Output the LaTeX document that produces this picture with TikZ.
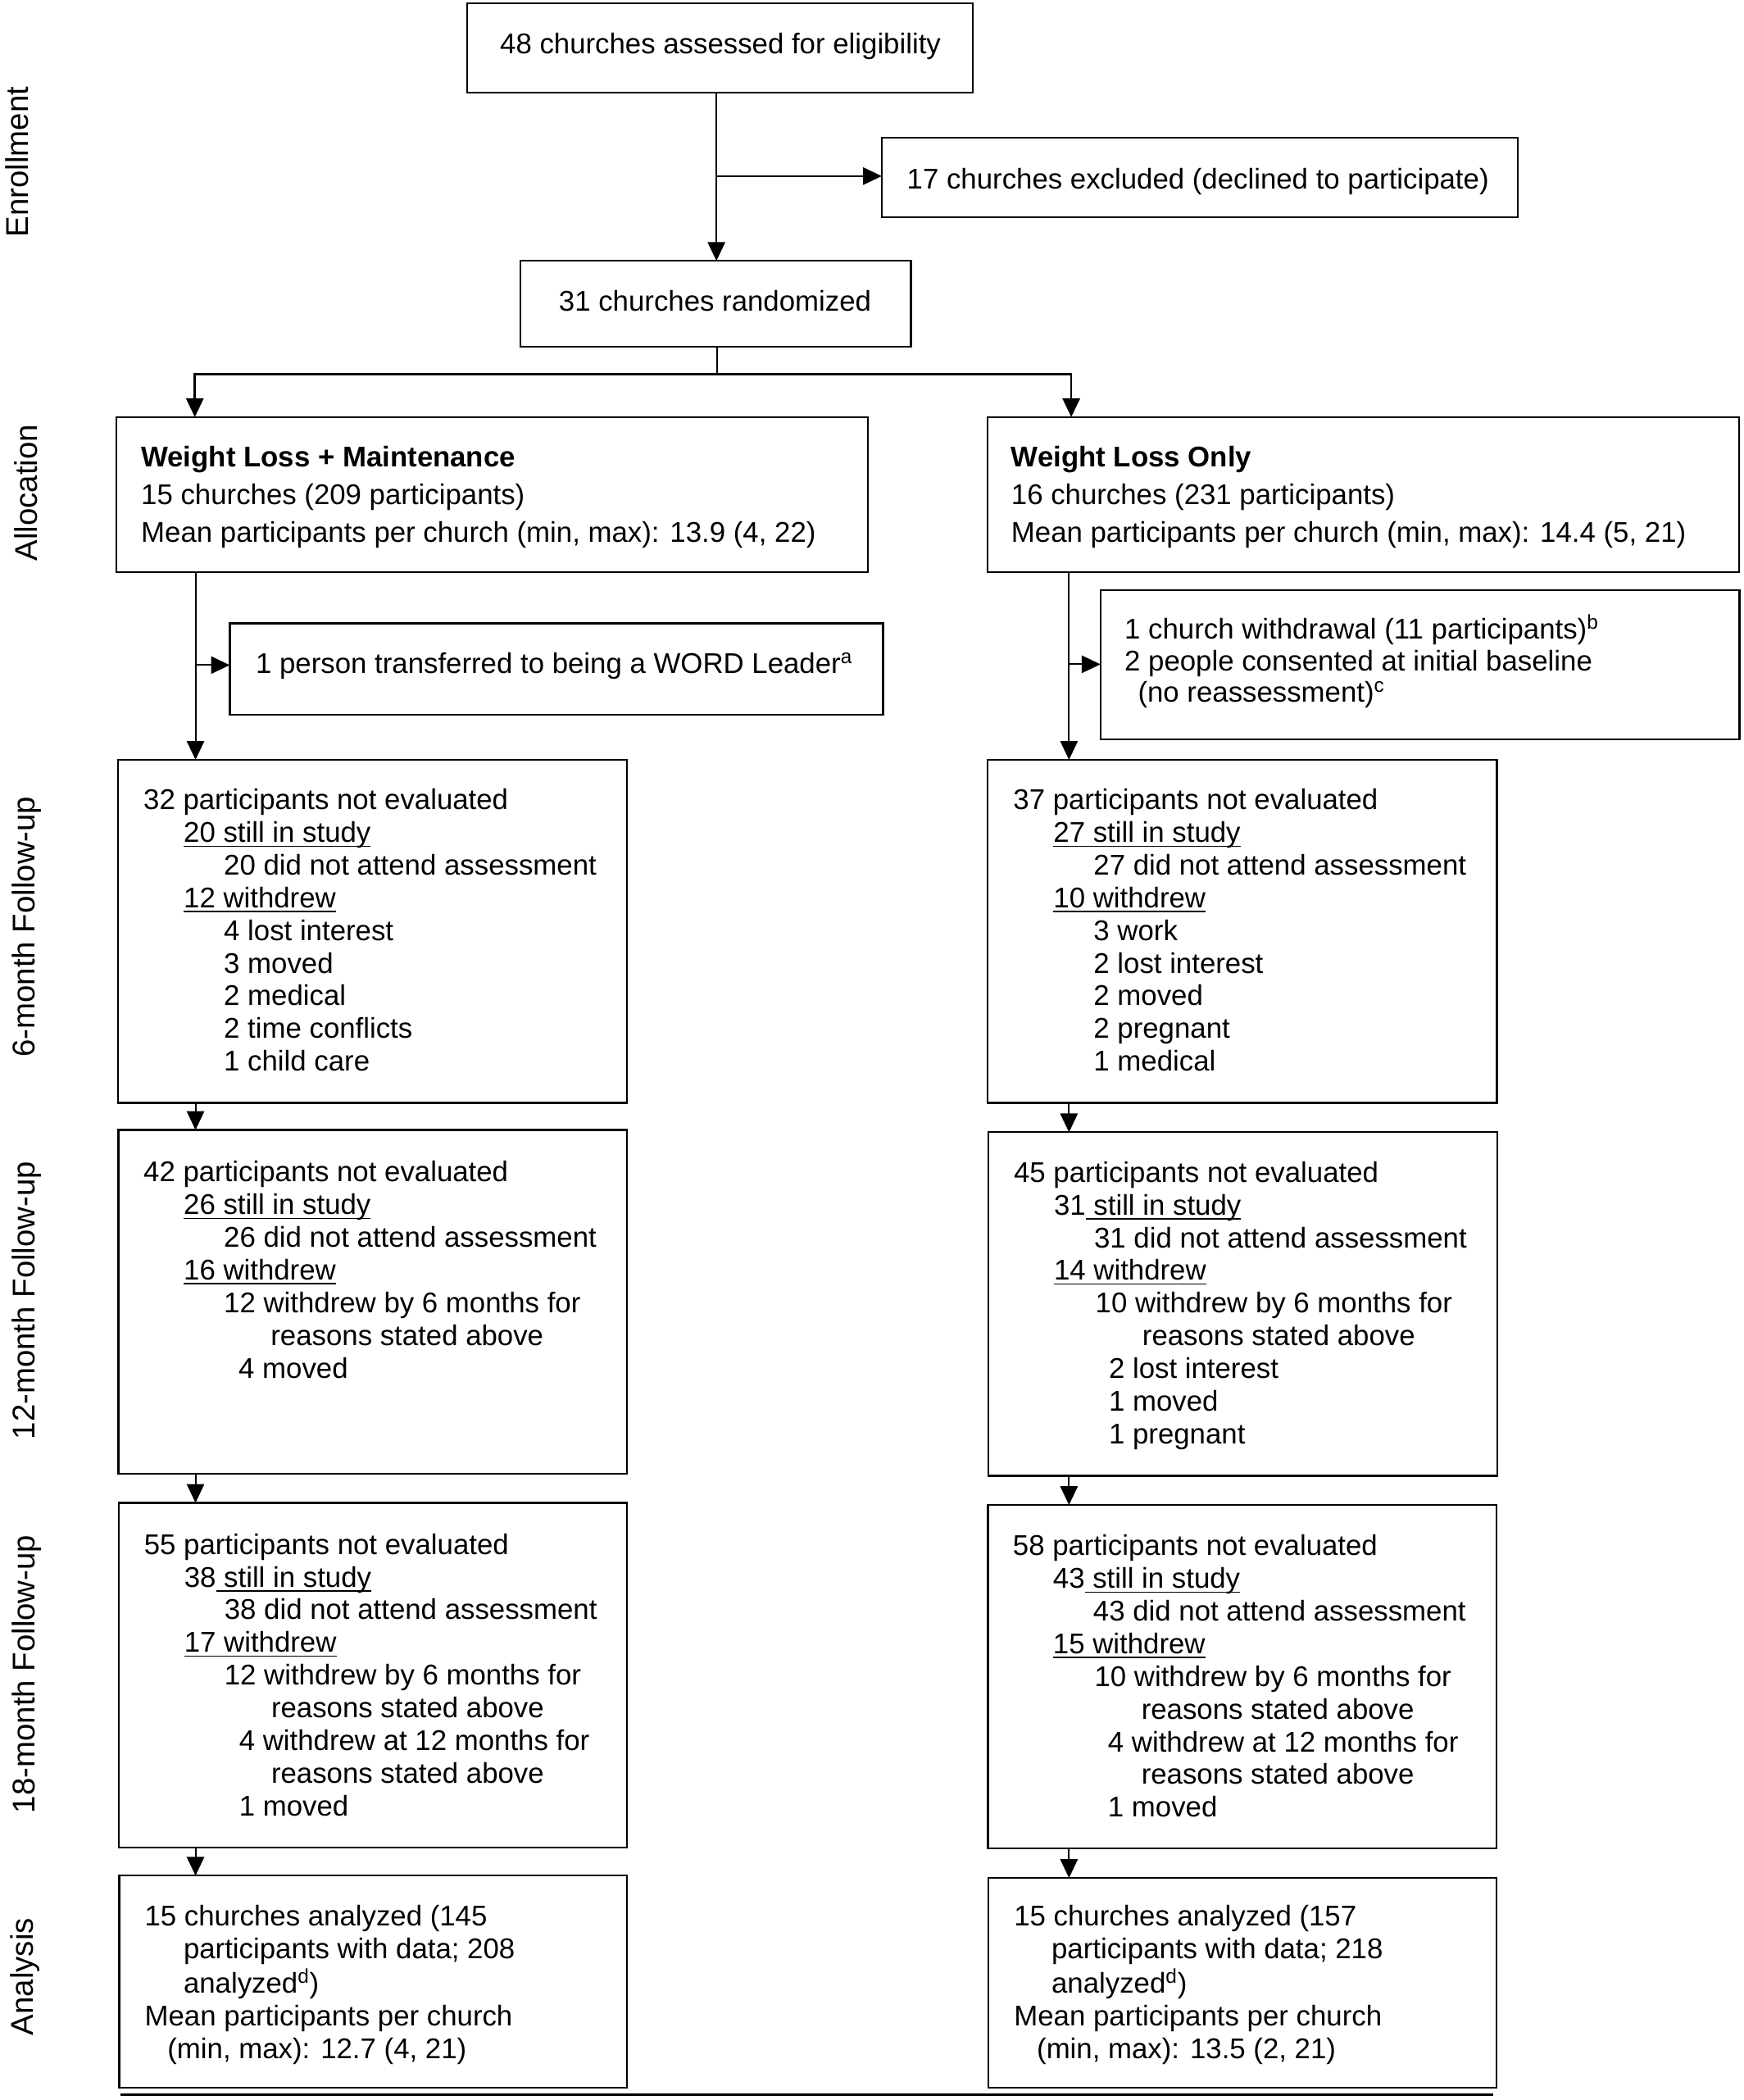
\documentclass[tikz,border=0pt]{standalone}
\usepackage{fontspec}
\setmainfont{Liberation Sans}
\usetikzlibrary{arrows.meta}
\newcommand\myul[1]{\setbox0=\hbox{#1}\rlap{\rule[-3.4pt]{\wd0}{1pt}}\box0}
\newcommand\ind[1]{\hspace*{#1pt}}
\newcommand\mkbox[5]{\node[boxnode, minimum width={(#4-#2)*1pt}, minimum height={(#5-#3)*1pt}] (#1) at (#2,#3) {};}
\tikzset{
  boxnode/.style={draw, line width=1.4pt, inner sep=0pt, outer sep=0pt, anchor=north west, fill=white},
  txt/.style={inner sep=0pt, font=\fontsize{21.3}{24.4}\selectfont, anchor=base west},
  ctxt/.style={txt, anchor=base},
  side/.style={inner sep=0pt, font=\fontsize{23.5}{28}\selectfont, rotate=90, anchor=base},
  conn/.style={line width=1.2pt},
  arr/.style={conn, -{Triangle[length=14pt,width=13pt]}}
}
\begin{document}
\begin{tikzpicture}[x=1pt,y=-1pt]
\path[fill=white] (0,0) rectangle (1302,1568);
\useasboundingbox (0,0) rectangle (1302,1568);

% side labels
\node[side] (lEnr) at (21,121) {Enrollment};
\node[side] (lAll) at (28,368) {Allocation};
\node[side] (l6) at (26,692) {6-month Follow-up};
\node[side] (l12) at (26,971) {12-month Follow-up};
\node[side] (l18) at (26,1250) {18-month Follow-up};
\node[side] (lAn) at (25,1476) {Analysis};

% boxes
\mkbox{b1}{349}{2.5}{726.5}{69}
\mkbox{b2}{658.5}{103}{1133.5}{162}
\mkbox{b3}{388.6}{194.8}{680.2}{259}
\mkbox{b4}{86.7}{311.4}{648.1}{427}
\mkbox{b5}{737.3}{311.4}{1298.7}{427}
\mkbox{nL}{171.6}{465.4}{659.4}{533.7}
\mkbox{nR}{821.8}{440.5}{1299}{552}
\mkbox{b6L}{88}{567.3}{468.1}{823.4}
\mkbox{b6R}{737.5}{567.3}{1117.8}{823.4}
\mkbox{b12L}{88.5}{843.7}{468.2}{1100.5}
\mkbox{b12R}{738.3}{845.4}{1118.3}{1101.9}
\mkbox{b18L}{88.9}{1122.1}{468.4}{1379.3}
\mkbox{b18R}{737.7}{1123.7}{1117.7}{1380.3}
\mkbox{bAL}{89}{1400.5}{468.4}{1558.8}
\mkbox{bAR}{738}{1402.2}{1117.7}{1558.8}

% texts
\node[ctxt] (t1) at (538,40) {48 churches assessed for eligibility};
\node[ctxt] (t2) at (894.6,141) {17 churches excluded (declined to participate)};
\node[ctxt] (t3) at (534,232.5) {31 churches randomized};

\node[txt, font=\fontsize{21.3}{28}\selectfont] (t4) at (105.2,348.6) {\begin{tabular}[t]{@{}l@{}}
\textbf{Weight Loss + Maintenance}\\
15 churches (209 participants)\\
Mean participants per church (min, max): 13.9 (4, 22)
\end{tabular}};
\node[txt, font=\fontsize{21.3}{28}\selectfont] (t5) at (755,348.6) {\begin{tabular}[t]{@{}l@{}}
\textbf{Weight Loss Only}\\
16 churches (231 participants)\\
Mean participants per church (min, max): 14.4 (5, 21)
\end{tabular}};

\node[txt] (tnL) at (190.8,502.7) {1 person transferred to being a WORD Leader\textsuperscript{a}};
\node[txt, font=\fontsize{21.3}{23.5}\selectfont] (tnR) at (839.6,477.2) {\begin{tabular}[t]{@{}l@{}}
1 church withdrawal (11 participants)\textsuperscript{b}\\
2 people consented at initial baseline\\
\ind{10}(no reassessment)\textsuperscript{c}
\end{tabular}};

\node[txt] (t6L) at (107,604.5) {\begin{tabular}[t]{@{}l@{}}
32 participants not evaluated\\
\ind{30}\myul{20 still in study}\\
\ind{60}20 did not attend assessment\\
\ind{30}\myul{12 withdrew}\\
\ind{60}4 lost interest\\
\ind{60}3 moved\\
\ind{60}2 medical\\
\ind{60}2 time conflicts\\
\ind{60}1 child care
\end{tabular}};
\node[txt] (t6R) at (756.5,604.5) {\begin{tabular}[t]{@{}l@{}}
37 participants not evaluated\\
\ind{30}\myul{27 still in study}\\
\ind{60}27 did not attend assessment\\
\ind{30}\myul{10 withdrew}\\
\ind{60}3 work\\
\ind{60}2 lost interest\\
\ind{60}2 moved\\
\ind{60}2 pregnant\\
\ind{60}1 medical
\end{tabular}};

\node[txt] (t12L) at (107,882.5) {\begin{tabular}[t]{@{}l@{}}
42 participants not evaluated\\
\ind{30}\myul{26 still in study}\\
\ind{60}26 did not attend assessment\\
\ind{30}\myul{16 withdrew}\\
\ind{60}12 withdrew by 6 months for\\
\ind{95}reasons stated above\\
\ind{71}4 moved
\end{tabular}};
\node[txt] (t12R) at (756.9,882.7) {\begin{tabular}[t]{@{}l@{}}
45 participants not evaluated\\
\ind{30}31\myul{\ still in study}\\
\ind{60}31 did not attend assessment\\
\ind{30}\myul{14 withdrew}\\
\ind{61}10 withdrew by 6 months for\\
\ind{96}reasons stated above\\
\ind{71}2 lost interest\\
\ind{71}1 moved\\
\ind{71}1 pregnant
\end{tabular}};

\node[txt] (t18L) at (107.4,1160.5) {\begin{tabular}[t]{@{}l@{}}
55 participants not evaluated\\
\ind{30}38\myul{\ still in study}\\
\ind{60}38 did not attend assessment\\
\ind{30}\myul{17 withdrew}\\
\ind{60}12 withdrew by 6 months for\\
\ind{95}reasons stated above\\
\ind{71}4 withdrew at 12 months for\\
\ind{95}reasons stated above\\
\ind{71}1 moved
\end{tabular}};
\node[txt] (t18R) at (756.2,1161.5) {\begin{tabular}[t]{@{}l@{}}
58 participants not evaluated\\
\ind{30}43\myul{\ still in study}\\
\ind{60}43 did not attend assessment\\
\ind{30}\myul{15 withdrew}\\
\ind{61}10 withdrew by 6 months for\\
\ind{96}reasons stated above\\
\ind{71}4 withdrew at 12 months for\\
\ind{96}reasons stated above\\
\ind{71}1 moved
\end{tabular}};

\node[txt] (tAL) at (107.9,1438) {\begin{tabular}[t]{@{}l@{}}
15 churches analyzed (145\\
\ind{29}participants with data; 208\\
\ind{29}analyzed\textsuperscript{d})\\
Mean participants per church\\
\ind{17}(min, max): 12.7 (4, 21)
\end{tabular}};
\node[txt] (tAR) at (757.1,1438) {\begin{tabular}[t]{@{}l@{}}
15 churches analyzed (157\\
\ind{28}participants with data; 218\\
\ind{28}analyzed\textsuperscript{d})\\
Mean participants per church\\
\ind{17}(min, max): 13.5 (2, 21)
\end{tabular}};

% connector coordinates
\coordinate (cT) at (535,0);
\coordinate (j1) at (535,131.5);
\coordinate (sp) at (535.7,279.5);
\coordinate (spL) at (145.5,279.5);
\coordinate (spR) at (800,279.5);
\coordinate (cL) at (146,0);
\coordinate (cR) at (798.3,0);
\coordinate (jL) at (146,496.6);
\coordinate (jR) at (798.3,496);
\coordinate (bl1) at (89.7,1564);
\coordinate (bl2) at (1115,1564);

% connectors
\draw[arr] (b1.south -| cT) -- (b3.north -| cT);
\draw[arr] (j1) -- (j1 -| b2.west);
\draw[conn] (b3.south -| sp) -- (sp);
\draw[arr, line width=1.6pt] (sp) -- (spL) -- (spL |- b4.north);
\draw[arr, line width=1.6pt] (sp) -- (spR) -- (spR |- b5.north);
\draw[arr] (b4.south -| cL) -- (b6L.north -| cL);
\draw[arr] (jL) -- (jL -| nL.west);
\draw[arr] (b5.south -| cR) -- (b6R.north -| cR);
\draw[arr] (jR) -- (jR -| nR.west);
\draw[arr] (b6L.south -| cL) -- (b12L.north -| cL);
\draw[arr] (b6R.south -| cR) -- (b12R.north -| cR);
\draw[arr] (b12L.south -| cL) -- (b18L.north -| cL);
\draw[arr] (b12R.south -| cR) -- (b18R.north -| cR);
\draw[arr] (b18L.south -| cL) -- (bAL.north -| cL);
\draw[arr] (b18R.south -| cR) -- (bAR.north -| cR);
\draw[line width=2pt] (bl1) -- (bl2);
\end{tikzpicture}
\end{document}
